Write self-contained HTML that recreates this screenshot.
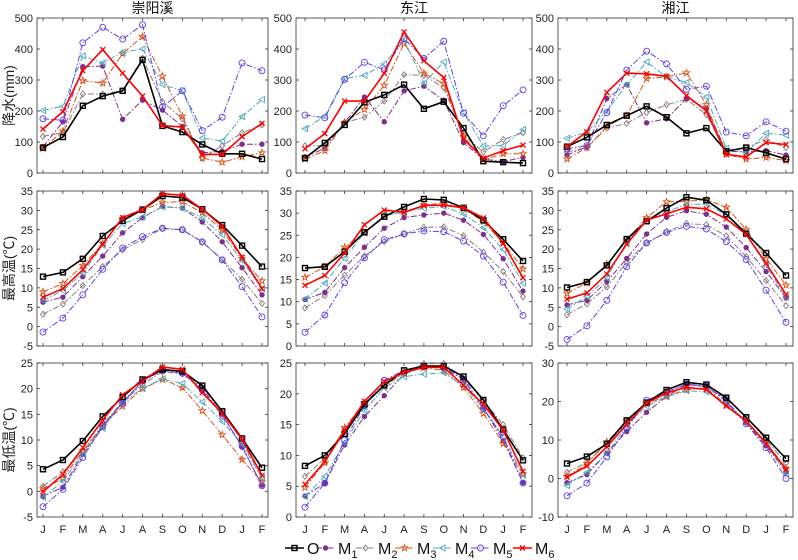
<!DOCTYPE html>
<html><head><meta charset="utf-8"><style>
body{margin:0;background:#fff;}
svg{display:block;font-family:"Liberation Sans","Noto Sans CJK SC",sans-serif;}
</style></head><body>
<svg id="chart" width="798" height="560" viewBox="0 0 798 560" xmlns="http://www.w3.org/2000/svg"></svg>
<script>
const months = ["J","F","M","A","J","A","S","O","N","D","J","F"];
const seriesNames = ["O","M1","M2","M3","M4","M5","M6"];
const basinTitles = ["崇阳溪","东江","湘江"];
const rowLabels = ["降水(mm)","最高温(℃)","最低温(℃)"];
// precipitation
const p1_O=[82,116,217,248,265,365,152,132,92,62,62,45];
const p1_M1=[85,165,343,345,173,235,203,150,65,70,93,93];
const p1_M2=[118,130,255,255,265,370,230,175,48,88,130,155];
const p1_M3=[80,135,298,290,385,440,312,183,48,35,52,65];
const p1_M4=[202,215,378,355,390,400,285,265,113,103,182,237];
const p1_M5=[175,170,420,470,432,478,213,265,137,180,355,330];
const p1_M6=[142,198,330,398,322,248,153,148,60,60,117,160];
const p2_O=[48,97,155,228,252,285,207,230,145,38,35,32];
const p2_M1=[52,80,163,245,165,265,280,235,98,45,37,50];
const p2_M2=[88,88,163,180,232,317,315,275,123,68,108,130];
const p2_M3=[45,72,163,205,283,418,322,288,118,42,62,62];
const p2_M4=[143,183,305,315,352,430,290,358,195,87,88,140];
const p2_M5=[187,178,302,357,333,433,370,425,193,120,217,268];
const p2_M6=[78,127,232,232,322,455,362,308,110,48,72,90];
const p3_O=[85,115,155,185,215,180,128,145,70,82,65,45];
const p3_M1=[58,85,240,285,162,175,240,210,70,68,72,58];
const p3_M2=[68,82,145,160,195,220,238,188,70,82,108,82];
const p3_M3=[45,82,150,185,305,310,323,220,60,45,50,40];
const p3_M4=[112,132,200,285,358,310,292,245,80,65,128,122];
const p3_M5=[78,88,195,332,393,352,270,280,132,120,165,135];
const p3_M6=[85,133,260,322,320,312,250,200,60,52,98,92];
// max temp
const h1_O=[12.9,14,17.5,23.4,27.3,30.2,33.7,33.3,30.3,26.2,20.9,15.5];
const h1_M1=[6.3,7.6,12.9,18.2,24.2,28.1,31,30.6,27,21.9,15.2,8.2];
const h1_M2=[3.2,5.8,10.6,15.5,19.8,22.5,25.3,25,21.8,17.3,12.2,6];
const h1_M3=[9,11.1,15.8,21.4,27.8,30,32.1,32.2,29.4,24.9,17.6,11.8];
const h1_M4=[6.8,9.3,13.8,21,26.6,28.3,30.9,30.6,28,23.7,17,9.8];
const h1_M5=[-1.4,2.2,8.2,14.8,20.3,23.2,25.4,25,21.9,17.2,10.3,2.5];
const h1_M6=[7.6,9.8,14.7,21.3,28.1,30.2,34.3,33.9,30.3,25.9,17.9,9.8];
const h2_O=[17.6,17.9,21.3,25.7,29.2,31.4,33.2,33,31.2,28.4,24.1,19.2];
const h2_M1=[10.5,12.1,17.7,22.3,26.6,29,29.6,30,28.4,25.2,19.7,12.4];
const h2_M2=[8.6,11.4,16,20.3,23.6,25.3,26.8,26.9,24.9,21.2,16.8,11.1];
const h2_M3=[15.5,17.9,22.3,25.5,29.5,30.2,31.8,32.3,31,28.1,23.3,17.4];
const h2_M4=[10.6,14.2,19.8,25.6,29.5,30.3,31.1,31.5,29.8,26.7,21.8,14.2];
const h2_M5=[3.1,7,14.3,19.9,24,25.3,26,25.8,23.7,20.3,14.4,6.9];
const h2_M6=[13.7,15.9,21,27.4,30.7,30.2,31.7,31.8,31.2,28.9,23.2,15.4];
const h3_O=[10.1,11.5,15.8,22.6,27.2,30.6,33.4,32.6,29,24,19,13.2];
const h3_M1=[5.6,6.8,11.6,17.6,23.9,28.2,29.9,29,25.7,20.4,14.2,7.4];
const h3_M2=[3.1,5.9,10.2,16.6,21.6,24.5,26.6,26.3,23.4,18.1,11.9,5.4];
const h3_M3=[8.6,11.3,16.1,22.3,28.1,32.2,32.3,32.8,30.8,25.1,17.6,10.7];
const h3_M4=[4.6,7.8,12.6,21.9,27.6,29.6,31.6,31.6,28.8,23.8,15.7,7.6];
const h3_M5=[-3.3,0.2,6.8,15.5,21.6,24.3,25.9,25.2,21.9,17.3,9.4,1.1];
const h3_M6=[7.1,8.7,13.6,21.3,27.5,29.1,30.8,30.4,27.8,23.8,16.3,8.3];
// min temp
const l1_O=[4.3,6.1,9.8,14.6,18.4,21.8,23.7,23.4,20.6,15.6,10.3,4.6];
const l1_M1=[-1,0.8,7.2,12.6,17.4,21.4,23.8,23.1,19.9,15,8.6,1.2];
const l1_M2=[1,3.8,7.6,13,17.5,20.8,23.3,22.9,20.3,15.5,9.8,2.5];
const l1_M3=[0.5,2.5,7.9,12.7,16.6,20,21.8,20.2,15.7,11,6.2,1.8];
const l1_M4=[-1.2,2,7.2,12.3,17.3,20.1,21.9,21,17.4,13.6,9.2,2.6];
const l1_M5=[-3,0.4,6.6,12.7,17.2,21.5,23.5,23,19.7,14.8,8.8,1.1];
const l1_M6=[-0.1,3.3,8.5,13.9,18.8,21.5,24.2,23.8,19.2,15.2,10.2,3.1];
const l2_O=[8.3,10,13.5,18.3,21.4,23.8,24.5,24.5,22.8,19,14.2,9.2];
const l2_M1=[3.4,5.5,11.7,16.3,19.7,23.2,24.5,24.3,22.4,17.7,12.4,5.6];
const l2_M2=[6.6,9.5,14.2,18,21.6,23.4,24.9,24.9,22.5,18.9,15,9.6];
const l2_M3=[4.8,8.8,14.5,18.5,21.2,23.4,24.2,23.8,21,16.8,11.9,7];
const l2_M4=[3.3,6.6,12.1,17.3,21,22.8,23.2,23.4,21.3,17.6,13,6.8];
const l2_M5=[1.6,5.5,12.5,18.1,22.2,23.8,24.5,24.2,22.3,17.6,13,5.5];
const l2_M6=[5.3,9,14,18.8,22,23.5,24.3,24.3,21.4,18.3,14.1,7.4];
const l3_O=[3.9,5.7,9,15.1,19.7,23,25,24.4,21,15.9,10.6,5.2];
const l3_M1=[-1.1,1,6.6,12.2,17.2,21.3,24.4,24,20.2,14.5,8.5,1.7];
const l3_M2=[1.6,4.2,9,14.4,19.8,22.5,24.4,23.8,20.8,16,10.1,4];
const l3_M3=[0.5,3.9,9.5,15,19.4,21.4,23,23.5,19.2,14.9,9.4,2.6];
const l3_M4=[-1.8,1.6,6.5,13.7,18.8,21.2,22.8,22.5,19.7,14.6,9.2,1.2];
const l3_M5=[-4.5,-1.2,5.6,13,20.3,22.5,24.5,24,20,14.2,8,0];
const l3_M6=[0.4,3.2,8.2,14.1,19.6,22.2,23.7,23.1,18.8,15,9.1,2.4];
const yTicks_precip=[0,100,200,300,400,500];
const yTicks_h1=[-5,0,5,10,15,20,25,30,35];
const yTicks_h2=[0,5,10,15,20,25,30,35];
const yTicks_l1=[-5,0,5,10,15,20,25];
const yTicks_l2=[0,5,10,15,20,25];
const yTicks_l3=[-10,0,10,20,30];

const panelData=[
 [[p1_O,p1_M1,p1_M2,p1_M3,p1_M4,p1_M5,p1_M6],[p2_O,p2_M1,p2_M2,p2_M3,p2_M4,p2_M5,p2_M6],[p3_O,p3_M1,p3_M2,p3_M3,p3_M4,p3_M5,p3_M6]],
 [[h1_O,h1_M1,h1_M2,h1_M3,h1_M4,h1_M5,h1_M6],[h2_O,h2_M1,h2_M2,h2_M3,h2_M4,h2_M5,h2_M6],[h3_O,h3_M1,h3_M2,h3_M3,h3_M4,h3_M5,h3_M6]],
 [[l1_O,l1_M1,l1_M2,l1_M3,l1_M4,l1_M5,l1_M6],[l2_O,l2_M1,l2_M2,l2_M3,l2_M4,l2_M5,l2_M6],[l3_O,l3_M1,l3_M2,l3_M3,l3_M4,l3_M5,l3_M6]]
];
const panelTicks=[[yTicks_precip,yTicks_precip,yTicks_precip],[yTicks_h1,yTicks_h2,yTicks_h1],[yTicks_l1,yTicks_l2,yTicks_l3]];

const colX=[[37,268,43,262],[296,532,305,523],[558,793,567,786]];
const rowY=[[18,173],[191,346],[363,517]];
const colors=["#000000","#7E2F8E","#8C7B7B","#D95319","#4DAABF","#5B3FF0","#FF0000"];
const dashes=["","6,2,1.5,2","6,2,1.5,2","6,2,1.5,2","6,2,1.5,2","6,2,1.5,2",""];
const widths=[1.6,1,1,1,1,1,1.6];
const NS="http://www.w3.org/2000/svg";
const svg=document.getElementById('chart');
function mk(tag,attrs,parent){const e=document.createElementNS(NS,tag);for(const k in attrs)e.setAttribute(k,attrs[k]);(parent||svg).appendChild(e);return e;}

function marker(g,k,x,y){
  const c=colors[k];let m;
  if(k===0){m=mk('rect',{x:x-2.5,y:y-2.5,width:5,height:5,fill:'none',stroke:c,'stroke-width':1.4},g);}
  else if(k===1){m=mk('circle',{cx:x,cy:y,r:2.3,fill:c,stroke:c,'stroke-width':0.8},g);}
  else if(k===2){m=mk('polygon',{points:`${x},${y-3} ${x+2.5},${y} ${x},${y+3} ${x-2.5},${y}`,fill:'none',stroke:c,'stroke-width':0.9},g);}
  else if(k===3){let pts=[];for(let i=0;i<10;i++){const r=i%2?1.4:3.4;const a=-Math.PI/2+i*Math.PI/5;pts.push((x+r*Math.cos(a)).toFixed(1)+','+(y+r*Math.sin(a)).toFixed(1));}m=mk('polygon',{points:pts.join(' '),fill:'none',stroke:c,'stroke-width':0.9},g);}
  else if(k===4){m=mk('polygon',{points:`${x-3},${y} ${x+2.5},${y-3} ${x+2.5},${y+3}`,fill:'none',stroke:c,'stroke-width':0.9},g);}
  else if(k===5){m=mk('circle',{cx:x,cy:y,r:3,fill:'none',stroke:c,'stroke-width':0.9},g);}
  else {m=mk('path',{d:`M${x-2.5},${y-2.5}L${x+2.5},${y+2.5}M${x-2.5},${y+2.5}L${x+2.5},${y-2.5}`,stroke:c,'stroke-width':1.3},g);}
  
  
}

for(let r=0;r<3;r++){for(let c=0;c<3;c++){
  const [L,R,x0,x1]=colX[c];const [T,B]=rowY[r];
  const ticks=panelTicks[r][c];const ymin=ticks[0],ymax=ticks[ticks.length-1];
  const xs=i=>x0+(x1-x0)*i/(months.length-1);
  const ys=v=>B-(v-ymin)/(ymax-ymin)*(B-T);
  const g=mk('g',{});
  
  
  mk('rect',{x:L,y:T,width:R-L,height:B-T,fill:'#fff',stroke:'#333','stroke-width':0.8},g);
  ticks.forEach(v=>{const y=ys(v);
    mk('line',{x1:L,y1:y,x2:L+3,y2:y,stroke:'#333','stroke-width':0.8},g);
    mk('line',{x1:R,y1:y,x2:R-3,y2:y,stroke:'#333','stroke-width':0.8},g);
    const t=mk('text',{x:L-4,y:y+4,'text-anchor':'end','font-size':11,fill:'#222'},g);t.textContent=v;
    });
  months.forEach((m,i)=>{const x=xs(i);
    mk('line',{x1:x,y1:B,x2:x,y2:B-3,stroke:'#333','stroke-width':0.8},g);
    mk('line',{x1:x,y1:T,x2:x,y2:T+3,stroke:'#333','stroke-width':0.8},g);
    if(r===2){const t=mk('text',{x:x,y:B+16,'text-anchor':'middle','font-size':11,fill:'#222'},g);t.textContent=m;
      }});
  const data=panelData[r][c];
  [2,1,3,4,5,0,6].forEach(k=>{
    const arr=data[k];const sg=mk('g',{},g);
    
    
    const pl=mk('polyline',{points:arr.map((v,i)=>xs(i).toFixed(1)+','+ys(v).toFixed(1)).join(' '),fill:'none',stroke:colors[k],'stroke-width':widths[k],'stroke-dasharray':dashes[k]},sg);
    
    
    arr.forEach((v,i)=>marker(sg,k,xs(i),ys(v)));
  });
  if(r===0){const t=mk('text',{x:(L+R)/2,y:13,'text-anchor':'middle','font-size':14,fill:'#111'});t.textContent=basinTitles[c];
    }
  if(c===0){const cy=(T+B)/2;const t=mk('text',{x:0,y:0,'text-anchor':'middle','font-size':14,fill:'#222',transform:`translate(14,${cy}) rotate(-90)`});t.textContent=rowLabels[r];
    }
}}
// legend
const legendLabelX=[307,338,378,417,455,493,535];
seriesNames.forEach((n,k)=>{
  const lx=legendLabelX[k];const y=548;
  const g=mk('g',{});
  
  
  const x1=lx-22,x2=lx-3;
  mk('line',{x1:x1,y1:y,x2:x2,y2:y,stroke:colors[k],'stroke-width':widths[k],'stroke-dasharray':dashes[k]},g);
  marker(g,k,(x1+x2)/2,y);
  const t=mk('text',{x:lx,y:y+6,'font-size':16,fill:'#111'},g);
  if(k===0){t.textContent='O';}
  else{t.textContent='M';const s=mk('tspan',{dy:4,'font-size':11},t);s.textContent=String(k);}
});
</script>
</body></html>
